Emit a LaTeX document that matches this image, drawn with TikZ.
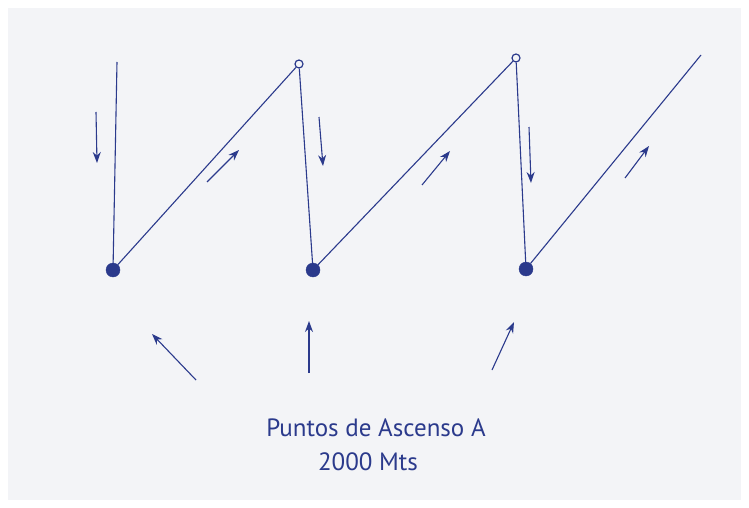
\documentclass[tikz,border=0pt]{standalone}
\usepackage{fontspec}
\setmainfont{PT Sans}
\usetikzlibrary{arrows.meta}
\definecolor{ink}{HTML}{2B3A8C}
\definecolor{paper}{HTML}{F3F4F7}
\tikzset{
  ink/.style={draw=ink, line width=1.2pt},
  flight/.style={ink, line width=1.1pt},
  botdot/.style={circle, fill=ink, draw=ink, minimum width=14pt, minimum height=12pt, inner sep=0pt},
  topdot/.style={circle, draw=ink, fill=paper, line width=1.2pt, minimum size=8pt, inner sep=0pt},
  dirarrow/.style={ink, line width=1.1pt, -{Stealth[length=11pt,width=8pt]}},
  label/.style={text=ink, font=\fontsize{25}{30}\selectfont}
}
\begin{document}
\begin{tikzpicture}[x=1pt,y=-1pt]
\useasboundingbox (0,0) rectangle (749,508);
\fill[white] (0,0) rectangle (749,508);
\fill[paper] (8,8) rectangle (741,500);
% points
\coordinate (s0) at (117,62);
\node[botdot] (b1) at (113,270) {};
\node[topdot] (t1) at (299,64) {};
\node[botdot] (b2) at (313,270) {};
\node[topdot] (t2) at (516,58) {};
\node[botdot] (b3) at (526,269) {};
\coordinate (e3) at (701,55);
% flight path
\draw[flight] (s0) -- (b1);
\draw[flight] (b1) -- (t1);
\draw[flight] (t1) -- (b2);
\draw[flight] (b2) -- (t2);
\draw[flight] (t2) -- (b3);
\draw[flight] (b3) -- (e3);
% direction arrows
\coordinate (a1s) at (96,112); \coordinate (a1e) at (97,163);
\coordinate (a2s) at (207,182); \coordinate (a2e) at (239,150);
\coordinate (a3s) at (319,117); \coordinate (a3e) at (323,166);
\coordinate (a4s) at (422,185); \coordinate (a4e) at (450,151);
\coordinate (a5s) at (529,127); \coordinate (a5e) at (531,183);
\coordinate (a6s) at (625,178); \coordinate (a6e) at (649,146);
\draw[dirarrow] (a1s) -- (a1e);
\draw[dirarrow] (a2s) -- (a2e);
\draw[dirarrow] (a3s) -- (a3e);
\draw[dirarrow] (a4s) -- (a4e);
\draw[dirarrow] (a5s) -- (a5e);
\draw[dirarrow] (a6s) -- (a6e);
% pointers to ascent points
\coordinate (p1s) at (196,380); \coordinate (p1e) at (152,334);
\coordinate (p2s) at (309,373); \coordinate (p2e) at (309,321);
\coordinate (p3s) at (492,370); \coordinate (p3e) at (514,322);
\draw[dirarrow] (p1s) -- (p1e);
\draw[dirarrow] (p2s) -- (p2e);
\draw[dirarrow] (p3s) -- (p3e);
% label
\node[label] (t) at (376,428) {Puntos de Ascenso A};
\node[label] (t2l) at (368,462) {2000 Mts};
\end{tikzpicture}
\end{document}
